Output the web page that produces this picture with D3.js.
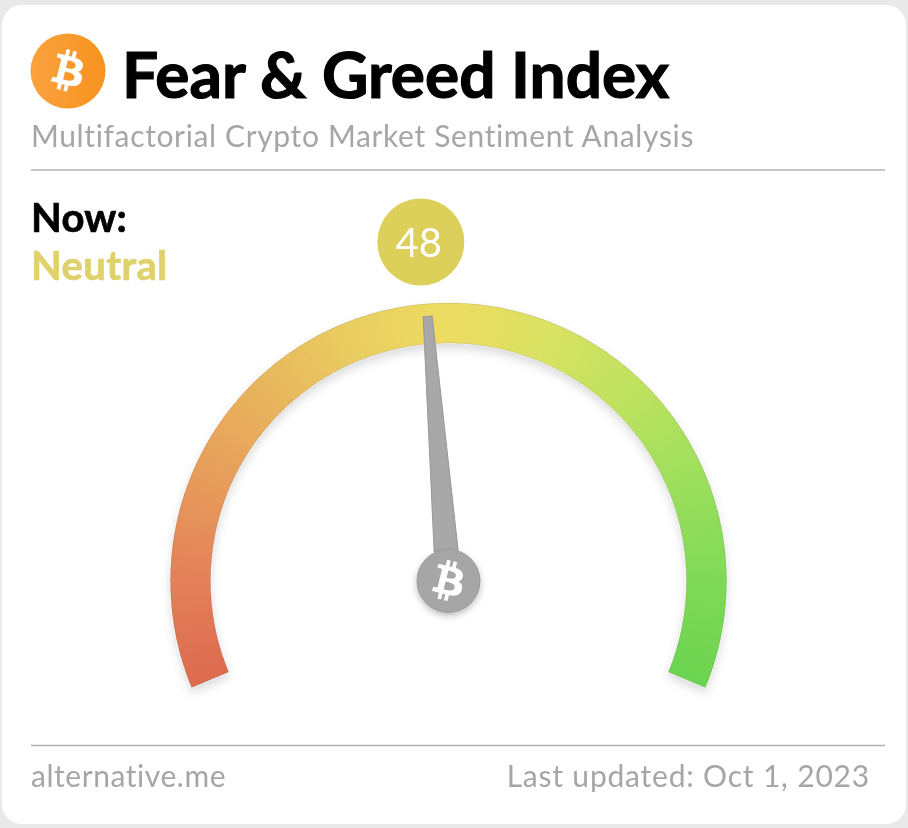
<!DOCTYPE html>
<html><head><meta charset="utf-8">
<script src="https://cdn.jsdelivr.net/npm/d3@7/dist/d3.min.js"></script>
<style>html,body{margin:0;padding:0;background:#e9e9e9;overflow:hidden}svg{display:block;filter:blur(0.45px)}text{font-family:Lato,sans-serif}</style>
</head><body><svg id="c" width="908" height="828"></svg>
<script>
const titleText = "Fear & Greed Index";
const subtitleText = "Multifactorial Crypto Market Sentiment Analysis";
const nowLabel = "Now:";
const classification = "Neutral";
const indexValue = 48;
const sourceText = "alternative.me";
const updatedText = "Last updated: Oct 1, 2023";
const gaugeDomain = [0, 100];
const stopValues = [0, 10, 20, 30, 40, 50, 60, 70, 80, 90, 100];
const stopColors = ["#dc6a4f","#e3805a","#e79c5b","#e8b45d","#e9cd60","#eddc62","#d8e262","#bde25f","#9cdf5c","#80d958","#6bd450"];

const BTC_B = "M46.11 27.441c.636-4.258-2.606-6.547-7.039-8.074l1.438-5.768-3.512-.875-1.4 5.616c-.922-.23-1.87-.447-2.812-.662l1.41-5.653-3.509-.875-1.439 5.766c-.764-.174-1.514-.346-2.242-.527l.004-.018-4.842-1.209-.934 3.75s2.605.597 2.55.634c1.422.355 1.68 1.296 1.636 2.042l-1.638 6.571c.098.025.225.061.365.117l-.37-.092-2.297 9.205c-.174.432-.615 1.08-1.609.834.035.051-2.552-.637-2.552-.637l-1.743 4.02 4.57 1.139c.85.213 1.683.436 2.502.646l-1.453 5.835 3.507.875 1.44-5.772c.957.26 1.887.5 2.797.726L27.504 50.8l3.511.875 1.453-5.823c5.987 1.133 10.49.676 12.383-4.738 1.527-4.36-.075-6.875-3.225-8.516 2.294-.531 4.022-2.04 4.483-5.157zM38.087 38.69c-1.086 4.36-8.426 2.004-10.807 1.412l1.928-7.729c2.38.594 10.011 1.77 8.88 6.317zm1.085-11.312c-.99 3.966-7.1 1.951-9.083 1.457l1.748-7.01c1.983.494 8.367 1.416 7.335 5.553z";

const svg = d3.select("#c");
const defs = svg.append("defs");
const soft = defs.append("filter").attr("id","soft").attr("x","-20%").attr("y","-20%").attr("width","140%").attr("height","140%");
soft.append("feDropShadow").attr("dx",0).attr("dy",5).attr("stdDeviation",5).attr("flood-color","#000").attr("flood-opacity",0.14);
const hubShadow = defs.append("filter").attr("id","hubS").attr("x","-30%").attr("y","-30%").attr("width","160%").attr("height","160%");
hubShadow.append("feDropShadow").attr("dx",0).attr("dy",3).attr("stdDeviation",3).attr("flood-color","#000").attr("flood-opacity",0.25);
const logoGrad = defs.append("linearGradient").attr("id","logoG");
logoGrad.append("stop").attr("offset","0%").attr("stop-color","#fba23f");
logoGrad.append("stop").attr("offset","100%").attr("stop-color","#f7931e");

// card
svg.append("rect").attr("width",908).attr("height",828).attr("fill","#e9e9e9");
svg.append("rect").attr("x",2).attr("y",5).attr("width",904).attr("height",819).attr("rx",20).attr("fill","#fff");

// header
const logo = svg.append("g").attr("transform","translate(68,71)");
logo.append("circle").attr("r",37.5).attr("fill","url(#logoG)");
logo.append("path").attr("d",BTC_B).attr("fill","#fff").attr("transform","scale(1.05) translate(-32,-32)");
const txt = (s,x,y,size,weight,fill,anchor,ls,sw) => svg.append("text").attr("x",x).attr("y",y).attr("font-size",size).attr("font-weight",weight).attr("fill",fill).attr("stroke",sw?fill:"none").attr("stroke-width",sw||0).attr("text-anchor",anchor||"start").attr("letter-spacing",ls||0).text(s);
txt(titleText,122,98,64,700,"#000","start",0,1.2);
txt(subtitleText,31,147,30,400,"#a6a6a6","start",0.64);
txt(nowLabel,31,232,40,700,"#000","start",0.2,0.7);
txt(classification,31,280,40,700,"#dfd26c","start",0.35,0.7);
svg.append("line").attr("x1",31).attr("x2",885).attr("y1",170).attr("y2",170).attr("stroke","#b0b0b0").attr("stroke-width",1.5);
svg.append("line").attr("x1",31).attr("x2",885).attr("y1",745.5).attr("y2",745.5).attr("stroke","#b0b0b0").attr("stroke-width",1.5);
txt(sourceText,31,787,30,400,"#a6a6a6","start",0.55);
txt(updatedText,870,787,30,400,"#a6a6a6","end",0.8);

// gauge
const cx = 448.5, cy = 581, rOuter = 278, rInner = 238;
const maxAngle = 112.5 * Math.PI / 180;
const angle = d3.scaleLinear().domain(gaugeDomain).range([-maxAngle, maxAngle]);
const color = d3.scaleLinear().domain(stopValues).range(stopColors).interpolate(d3.interpolateRgb);
const g = svg.append("g").attr("transform",`translate(${cx},${cy})`);
const arc = d3.arc().innerRadius(rInner).outerRadius(rOuter);
g.append("path").attr("d",arc({startAngle:angle(0),endAngle:angle(100)})).attr("fill","#e8a85c").attr("stroke","#fff").attr("stroke-width",1).attr("filter","url(#soft)");
const segs = d3.range(0,100,0.5);
g.selectAll("path.seg").data(segs).join("path").attr("class","seg")
  .attr("d",d=>arc({startAngle:angle(d),endAngle:angle(Math.min(100,d+0.6))}))
  .attr("fill",d=>color(d+0.25));
g.append("path").attr("d",arc({startAngle:angle(0),endAngle:angle(100)})).attr("fill","none").attr("stroke","#000").attr("stroke-opacity",0.1).attr("stroke-width",1);

// needle
const rad = d3.scaleLinear().domain([0,1]).range([0,265.5]);
const needle = g.append("g").attr("transform",`rotate(${angle(indexValue)*180/Math.PI})`);
const needleShape = [[-12,-30],[12,-30],[4.5,-rad(1)],[-4.5,-rad(1)]];
needle.append("path").attr("d",d3.line()(needleShape)+"Z").attr("fill","#a8a8a8").attr("stroke","#979797").attr("stroke-width",1).attr("stroke-linejoin","round");
g.append("circle").attr("r",31.5).attr("fill","#a6a6a6").attr("stroke","#9a9a9a").attr("stroke-width",1).attr("filter","url(#hubS)");
g.append("path").attr("d",BTC_B).attr("fill","#fff").attr("transform","scale(1.02) translate(-32,-32)");

// bubble
const a = angle(indexValue);
const bx = cx + 340*Math.sin(a) - 1, by = cy - 340*Math.cos(a);
svg.append("circle").attr("cx",bx).attr("cy",by).attr("r",43.5).attr("fill","#dccf5a");
svg.append("text").attr("x",bx-2).attr("y",by+15).attr("text-anchor","middle").attr("font-size",40).attr("font-weight",400).attr("fill","#fff").text(indexValue);
</script></body></html>
